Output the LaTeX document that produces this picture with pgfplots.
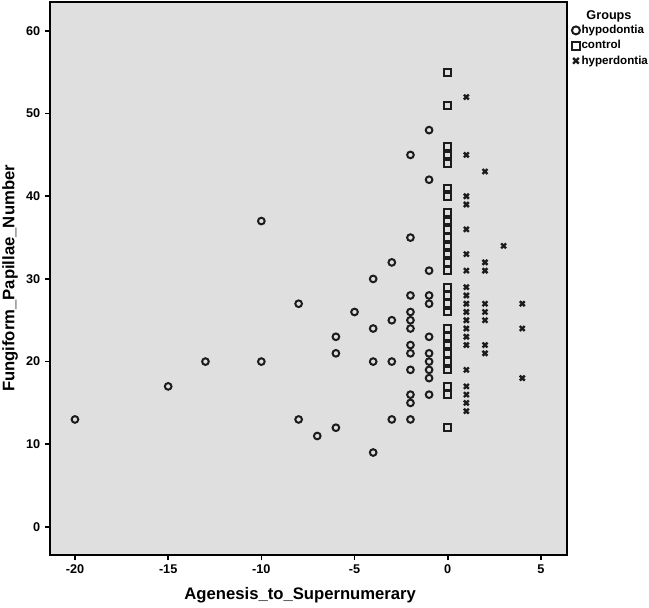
\documentclass[border=0pt]{standalone}
\usepackage{fontspec}
\setmainfont{Liberation Sans}
\usepackage{pgfplots}
\pgfplotsset{compat=1.18}
\definecolor{bg}{RGB}{223,223,223}
\definecolor{mk}{RGB}{28,28,28}
\begin{document}
\begin{tikzpicture}
\begin{axis}[
  scale only axis, width=387.75pt, height=414.75pt,
  xmin=-21.34, xmax=6.4, ymin=-3.4, ymax=63.5,
  axis background/.style={fill=bg},
  axis line style={line width=1.5pt, black},
  xtick={-20,-15,...,5}, ytick={0,10,...,60},
  tick align=outside, tick pos=left, major tick length=3.75pt,
  every tick/.style={black, line width=1.2pt},
  /pgf/number format/assume math mode=true,
  ticklabel style={font=\bfseries\fontsize{9.5}{11}\selectfont},
  xlabel={Agenesis\_to\_Supernumerary},
  ylabel={Fungiform\_Papillae\_Number},
  label style={font=\bfseries\fontsize{12.5}{14}\selectfont},
  xlabel style={at={(axis description cs:0.484,-0.072)}, anchor=center},
  ylabel style={at={(axis description cs:-0.0774,0.5)}, anchor=center},
  legend style={at={(rel axis cs:1,1)}, anchor=north west, xshift=3.5pt, yshift=-16pt,
    draw=none, fill=none, inner sep=0pt, row sep=1.2pt,
    font=\bfseries\fontsize{8.7}{9}\selectfont, nodes={inner sep=1.2pt}},
  legend cell align=left,
  legend image code/.code={\draw[#1, mark size=3pt] plot coordinates {(0.1cm,0cm)};},
]
\addplot[only marks, mark=o, mark size=2.5pt, draw=mk, line width=1.5pt] coordinates {
(-20,13) (-15,17) (-13,20) (-10,37) (-10,20) (-8,27) (-8,13) (-7,11) (-6,23) (-6,21) (-6,12) (-5,26)
(-4,30) (-4,24) (-4,20) (-4,9) (-3,32) (-3,25) (-3,20) (-3,13)
(-2,45) (-2,35) (-2,28) (-2,26) (-2,25) (-2,24) (-2,22) (-2,21) (-2,19) (-2,16) (-2,15) (-2,13)
(-1,48) (-1,42) (-1,31) (-1,28) (-1,27) (-1,23) (-1,21) (-1,20) (-1,19) (-1,18) (-1,16)
};
\addlegendentry{hypodontia}
\addplot[only marks, mark=square, mark size=2.5pt, draw=mk, line width=1.5pt] coordinates {
(0,55) (0,51) (0,46) (0,45) (0,44) (0,41) (0,40) (0,38) (0,37) (0,36) (0,35) (0,34) (0,33) (0,32) (0,31)
(0,29) (0,28) (0,27) (0,26) (0,24) (0,23) (0,22) (0,21) (0,20) (0,19) (0,17) (0,16) (0,12)
};
\addlegendentry{control}
\addplot[only marks, mark=x, mark size=2.6pt, draw=mk, line width=1.8pt] coordinates {
(1,52) (1,45) (1,40) (1,39) (1,36) (1,33) (1,31) (1,29) (1,28) (1,27) (1,26) (1,25) (1,24) (1,23) (1,22)
(1,19) (1,17) (1,16) (1,15) (1,14)
(2,43) (2,32) (2,31) (2,27) (2,26) (2,25) (2,22) (2,21)
(3,34)
(4,27) (4,24) (4,18)
};
\addlegendentry{hyperdontia}
\coordinate (bl) at (rel axis cs:0,0);
\coordinate (tr) at (rel axis cs:1,1);
\end{axis}
\node[font=\bfseries\fontsize{9.5}{11}\selectfont] at ([xshift=31.5pt,yshift=-11pt]tr) {Groups};
\pgfresetboundingbox
\path ([xshift=-37.5pt,yshift=-39pt]bl) rectangle ([xshift=61.5pt,yshift=1.5pt]tr);
\end{tikzpicture}
\end{document}
